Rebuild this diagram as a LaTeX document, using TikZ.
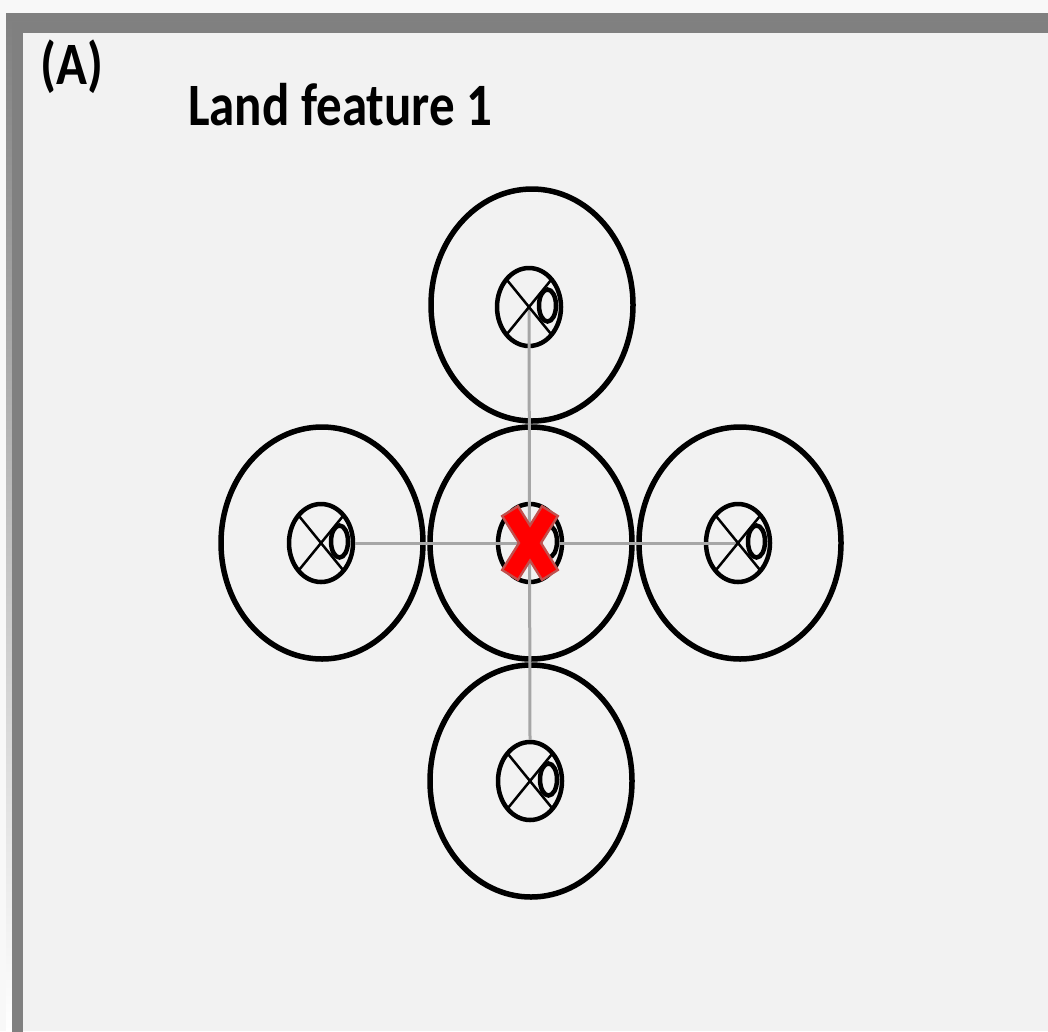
\documentclass[tikz,border=0pt]{standalone}
\usepackage{fontspec}
\setmainfont{Carlito}
\usetikzlibrary{shapes.geometric,calc}
\definecolor{bg}{HTML}{F2F2F2}
\definecolor{outer}{HTML}{F8F8F8}
\definecolor{shade}{HTML}{ECECEC}
\definecolor{framec}{HTML}{808080}
\definecolor{linkc}{HTML}{A6A6A6}
\definecolor{xred}{HTML}{FF0000}
\definecolor{xedge}{HTML}{C0504D}
\newcommand\symcross[1]{%
  \draw[crossline] ($(#1.center)+(-22,-27)$) -- ($(#1.center)+(22,27)$);
  \draw[crossline] ($(#1.center)+(-22,27)$) -- ($(#1.center)+(22,-27)$);
  \node[pin] (#1p) at ($(#1.center)+(18.5,-1.5)$) {};}
\begin{document}
\begin{tikzpicture}[x=1pt,y=-1pt,
  ring/.style={ellipse, draw, line width=5.5pt, minimum width=202pt, minimum height=232pt, inner sep=0pt},
  symb/.style={ellipse, draw, fill=bg, line width=4.5pt, minimum width=64pt, minimum height=78pt, inner sep=0pt},
  crossline/.style={line width=2.5pt},
  pin/.style={ellipse, draw, fill=bg, line width=4.5pt, minimum width=17pt, minimum height=32pt, inner sep=0pt},
  linkline/.style={draw=linkc, line width=3pt},
  title/.style={font=\fontsize{51}{60}\selectfont\bfseries, anchor=base west, inner sep=0pt}]
\useasboundingbox (0,0) rectangle (1048,1031);
\clip (0,0) rectangle (1048,1031);
% background and frame
\fill[outer] (0,0) rectangle (1048,1031);
\fill[shade] (6,13) rectangle (1048,1031);
\fill[bg] (22,33) rectangle (1048,1031);
\draw[framec, line width=11pt] (17,1040) -- (17,27) -- (1060,27);
% titles
\node[title] (lblA) at (40,84) {\scalebox{1}[1.18]{(A)}};
\node[title] (lblT) at (188,125) {\scalebox{1}[1.18]{Land feature 1}};
% rings
\node[ring] (rt) at (532,305) {};
\node[ring] (rc) at (531,543) {};
\node[ring] (rl) at (322,543) {};
\node[ring] (rr) at (740,543) {};
\node[ring] (rb) at (531,781) {};
% symbols
\node[symb] (st) at (529,307) {};
\node[symb] (sc) at (530,543) {};
\node[symb] (sl) at (321,543) {};
\node[symb] (sr) at (738,543) {};
\node[symb] (sb) at (530,781) {};
% links
\draw[linkline] (st.center) -- (sb.north);
\draw[linkline] (sl.east) -- (sr.center);
% crosses
\symcross{st}
\symcross{sc}
\symcross{sl}
\symcross{sr}
\symcross{sb}
% red X marker
\coordinate (xc) at (sc.center);
\draw[xedge, line width=21pt, line cap=rect] ($(xc)+(-15,-24)$) -- ($(xc)+(15,24)$);
\draw[xedge, line width=21pt, line cap=rect] ($(xc)+(-15,24)$) -- ($(xc)+(15,-24)$);
\draw[xred, line width=16pt, line cap=rect] ($(xc)+(-15,-24)$) -- ($(xc)+(15,24)$);
\draw[xred, line width=16pt, line cap=rect] ($(xc)+(-15,24)$) -- ($(xc)+(15,-24)$);
\end{tikzpicture}
\end{document}
